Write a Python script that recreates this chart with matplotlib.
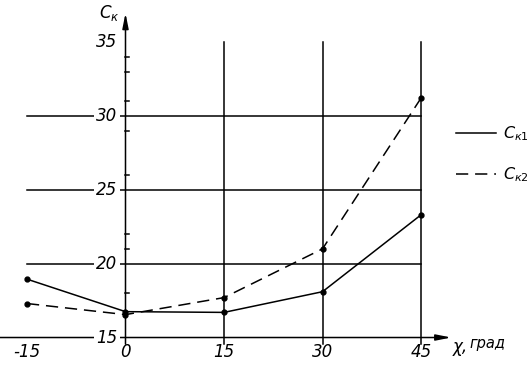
import matplotlib
matplotlib.use("Agg")
import matplotlib.pyplot as plt

plt.rcParams['mathtext.fontset'] = 'dejavusans'

# data
x_vals = [-15, 0, 15, 30, 45]
ck1 = [18.95, 16.75, 16.7, 18.1, 23.3]
ck2 = [17.3, 16.55, 17.7, 21.0, 31.2]

x_ticks = [-15, 0, 15, 30, 45]
y_ticks = [15, 20, 25, 30, 35]
y_minor = [18, 21, 22, 26, 29, 31, 33, 34]
labels = [r'$C_{к1}$', r'$C_{к2}$']

FONT = dict(family='DejaVu Sans', style='italic', fontsize=12)
LW = 1.1
DASH = (8, 4.5)

fig = plt.figure(figsize=(5.32, 3.65), dpi=100)
ax = fig.add_axes([0, 0, 1, 1])
ax.set_xlim(-19.11, 61.9)
ax.set_ylim(13.14, 37.84)
ax.axis('off')

# grid: horizontal lines at inner y ticks, vertical at positive x ticks
for y in y_ticks[1:-1]:
    ax.plot([x_ticks[0], x_ticks[-1]], [y, y], color='black', lw=LW, zorder=1)
for x in x_ticks[2:]:
    ax.plot([x, x], [y_ticks[0] - 0.45, y_ticks[-1]], color='black', lw=LW, zorder=1)

# x axis with arrow
ax.annotate('', xy=(49.6, y_ticks[0]), xytext=(-19.2, y_ticks[0]),
            arrowprops=dict(arrowstyle='-|>,head_length=0.9,head_width=0.18',
                            color='black', lw=LW, shrinkA=0, shrinkB=0), zorder=2)
# y axis with arrow
ax.annotate('', xy=(0, 36.95), xytext=(0, y_ticks[0] - 0.45),
            arrowprops=dict(arrowstyle='-|>,head_length=0.9,head_width=0.18',
                            color='black', lw=LW, shrinkA=0, shrinkB=0), zorder=2)

# small ticks on the y axis
for y in y_minor:
    ax.plot([0, 0.6], [y, y], color='black', lw=LW, zorder=2)

# tick labels
for y in y_ticks:
    ax.text(-1.2, y, str(y), ha='right', va='center', zorder=3,
            bbox=dict(fc='white', ec='none', pad=1.5), **FONT)
for x in x_ticks:
    ax.text(x, 14.05, str(x), ha='center', va='center', **FONT)

ax.text(-2.4, 36.95, r'$C_{к}$', ha='center', va='center', **FONT)
ax.text(49.9, 14.35, 'χ,', ha='left', va='center', **FONT)
ax.text(52.3, 14.6, 'град', ha='left', va='center',
        family='DejaVu Sans', style='italic', fontsize=10.5)

# the two curves
ax.plot(x_vals, ck1, color='black', lw=LW, marker='o', ms=3.5, zorder=4)
ax.plot(x_vals, ck2, color='black', lw=LW, marker='o', ms=3.5,
        dashes=DASH, zorder=4)

h1, = ax.plot([], [], color='black', lw=LW)
h2, = ax.plot([], [], color='black', lw=LW, dashes=DASH)
ax.legend([h1, h2], labels, loc='upper left', bbox_to_anchor=(0.858, 0.659),
          frameon=False, handlelength=2.5, handletextpad=0.4,
          labelspacing=1.4, borderaxespad=0, borderpad=0,
          prop=dict(family='DejaVu Sans', size=11.5))

fig.savefig('out.png', dpi=100)
